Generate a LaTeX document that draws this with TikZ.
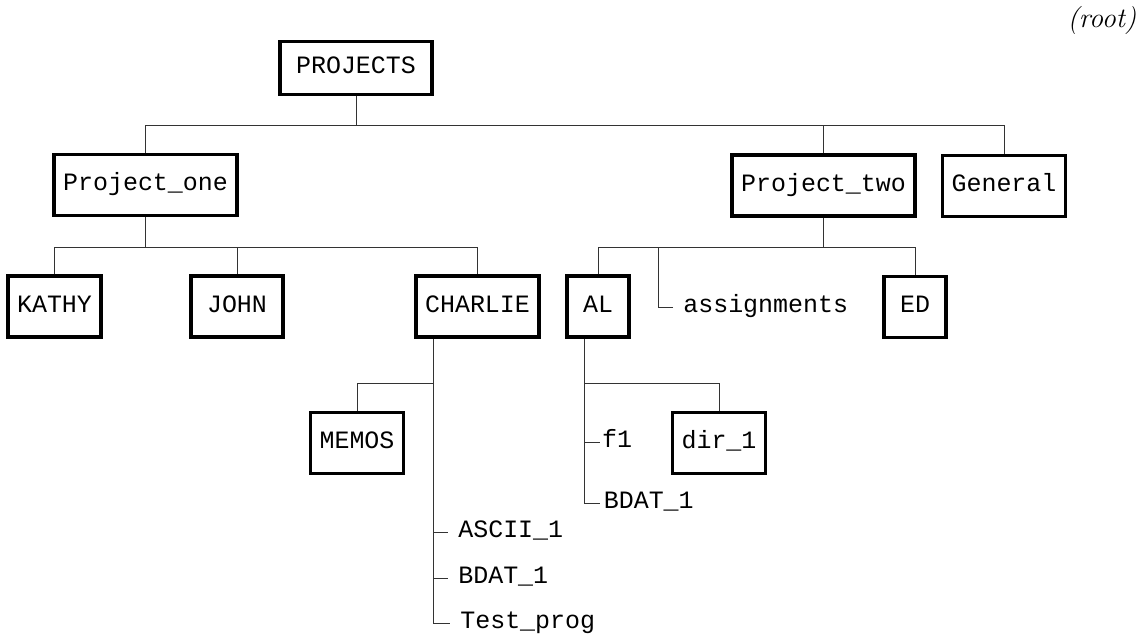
\documentclass[tikz,border=0pt]{standalone}
\usepackage{fontspec}
\setmonofont{Liberation Mono}
\usepackage{tikz}
\usetikzlibrary{calc}

\begin{document}
\begin{tikzpicture}[x=0.02cm,y=-0.02cm,
dir/.style={draw,line width=2pt,font=\ttfamily\fontsize{14.2}{16}\selectfont,minimum height=1.22cm,minimum width=1.24cm,inner xsep=0.18cm,text height=0.66em,text depth=0pt},
file/.style={anchor=west,font=\ttfamily\fontsize{14.2}{16}\selectfont,inner xsep=0.2cm,text height=0.66em,text depth=0pt},
link/.style={line width=0.55pt,black!80}]
\useasboundingbox (0,0) rectangle (1146,640);
\node[font=\itshape\fontsize{16}{18}\selectfont] (root) at (1102,20) {(root)};
\node[dir,minimum width=3.04cm,minimum height=1.06cm] (projects) at (356,68) {PROJECTS};
\node[dir] (pone) at (145.5,185) {Project\_one};
\node[dir] (ptwo) at (823.5,185.5) {Project\_two};
\node[dir] (gen) at (1004,186) {General};
\node[dir] (kathy) at (54.5,306.5) {KATHY};
\node[dir,minimum width=1.84cm] (john) at (237,306.5) {JOHN};
\node[dir] (charlie) at (477.5,306.5) {CHARLIE};
\node[dir] (al) at (598,306.5) {AL};
\node[dir] (ed) at (915,307) {ED};
\node[dir] (memos) at (357,443) {MEMOS};
\node[dir] (dirone) at (719,443) {dir\_1};
\node[file] (assign) at (673,307) {assignments};
\node[file] (ascii) at (448,532) {ASCII\_1};
\node[file] (bdatc) at (448,578) {BDAT\_1};
\node[file] (test) at (450,623) {Test\_prog};
\node[file,inner xsep=1pt] (fone) at (600,442) {f1};
\node[file,inner xsep=2pt] (bdata) at (600,503) {BDAT\_1};
\draw[link] (projects.south) -- ++(0,29) coordinate (bus1);
\draw[link] (pone.north) |- (bus1) -| (gen.north);
\draw[link] (ptwo.north) |- (bus1);
\draw[link] (pone.south) -- ++(0,30) coordinate (bus2);
\draw[link] (kathy.north) |- (bus2) -| (charlie.north);
\draw[link] (john.north) |- (bus2);
\draw[link] (ptwo.south) -- ++(0,30) coordinate (bus3);
\draw[link] (al.north) |- (bus3) -| (ed.north);
\draw[link] (assign.west) -| ($(al.north |- bus3)+(60,0)$);
\draw[link] ($(charlie.south)+(-44,0)$) coordinate (cout) |- (test.west);
\draw[link] (memos.north) |- ($(cout)+(0,45)$);
\draw[link] (cout |- ascii.west) -- (ascii.west);
\draw[link] (cout |- bdatc.west) -- (bdatc.west);
\draw[link] ($(al.south)+(-14,0)$) coordinate (aout) |- (bdata.west);
\draw[link] (dirone.north) |- ($(aout)+(0,45)$);
\draw[link] (aout |- fone.west) -- (fone.west);
\end{tikzpicture}
\end{document}
